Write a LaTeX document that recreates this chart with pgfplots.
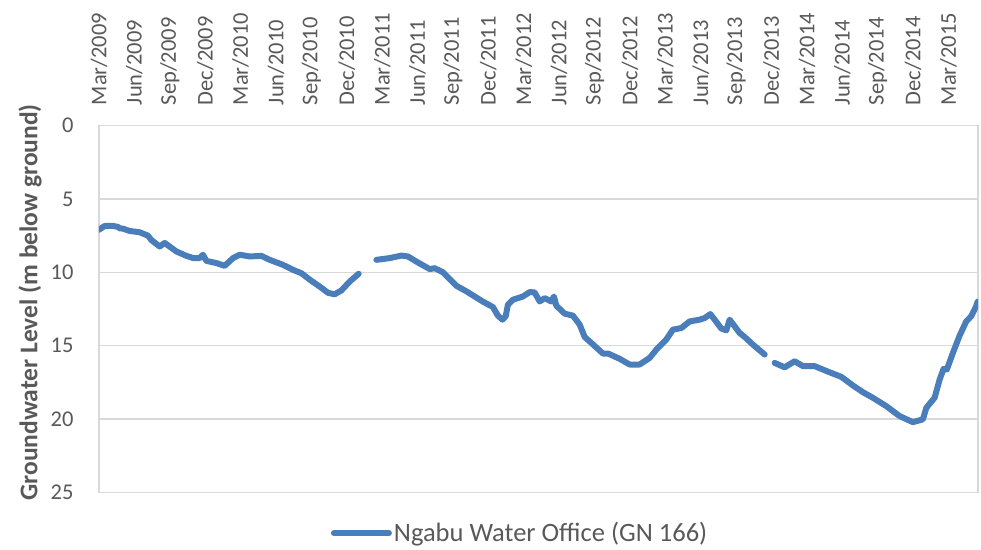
\documentclass[border=0pt]{standalone}
\usepackage{fontspec}
\setmainfont{Carlito}
\usepackage{pgfplots}
\pgfplotsset{compat=1.18}
\definecolor{txt}{HTML}{595959}
\definecolor{grd}{HTML}{D9D9D9}
\definecolor{ser}{HTML}{4A7EBB}

% x = months after Mar/2009, y = depth below ground (m); nan = gap in record
\pgfplotstableread{
x y
0.00 7.10
0.48 6.84
1.19 6.84
1.61 6.90
1.75 7.00
2.03 7.02
2.60 7.18
3.45 7.27
4.15 7.50
4.44 7.80
5.14 8.24
5.57 8.00
6.56 8.58
7.41 8.88
7.97 9.03
8.53 9.03
8.81 8.80
9.10 9.22
9.95 9.37
10.65 9.56
11.36 9.03
11.92 8.80
12.77 8.92
13.76 8.88
14.47 9.15
15.59 9.49
16.44 9.83
17.15 10.06
17.86 10.50
18.70 10.97
19.41 11.40
19.97 11.50
20.54 11.24
21.25 10.63
22.01 10.10
22.80 nan
23.51 9.15
24.64 9.03
25.63 8.86
26.19 8.92
26.90 9.27
28.03 9.78
28.45 9.72
29.15 10.00
30.29 10.92
31.14 11.30
31.84 11.65
32.54 12.00
33.39 12.37
33.81 12.96
34.19 13.23
34.47 13.00
34.66 12.20
35.08 11.87
35.93 11.65
36.50 11.35
36.92 11.37
37.35 11.99
37.77 11.76
38.34 11.99
38.56 11.65
38.76 12.28
39.47 12.82
40.17 12.96
40.74 13.57
41.16 14.41
41.73 14.82
42.71 15.54
43.14 15.54
44.13 15.90
44.97 16.29
45.82 16.29
46.67 15.84
47.24 15.27
48.08 14.59
48.64 13.91
49.36 13.80
50.06 13.35
50.91 13.23
51.33 13.12
51.81 12.85
52.18 13.23
52.75 13.84
53.17 13.96
53.45 13.23
54.30 14.14
54.72 14.41
55.42 14.93
56.42 15.61
56.80 nan
57.26 16.18
58.11 16.48
58.96 16.07
59.66 16.40
60.65 16.40
61.92 16.82
62.91 17.13
63.90 17.72
64.75 18.18
65.59 18.56
66.73 19.13
67.86 19.81
68.98 20.22
69.83 20.03
70.12 19.24
70.82 18.56
71.25 17.31
71.58 16.59
71.86 16.63
72.37 15.50
72.94 14.32
73.50 13.35
73.92 13.00
74.35 12.30
74.47 12.00
}\gwdata

\begin{document}
\fontsize{22}{26}\selectfont
\begin{tikzpicture}
\begin{axis}[
    name=ax,
    scale only axis,
    width=879pt,
    height=366.5pt,
    xmin=0, xmax=74.5,
    ymin=0, ymax=25,
    y dir=reverse,
    ytick={0,5,10,15,20,25},
    xtick={0,3,...,72},
    xticklabels={Mar/2009,Jun/2009,Sep/2009,Dec/2009,Mar/2010,Jun/2010,Sep/2010,Dec/2010,Mar/2011,Jun/2011,Sep/2011,Dec/2011,Mar/2012,Jun/2012,Sep/2012,Dec/2012,Mar/2013,Jun/2013,Sep/2013,Dec/2013,Mar/2014,Jun/2014,Sep/2014,Dec/2014,Mar/2015},
    xticklabel pos=upper,
    x tick label style={rotate=90, anchor=west},
    xticklabel shift=13pt,
    yticklabel shift=18pt,
    major tick length=0pt,
    tick label style={font=\fontsize{22.5}{26}\selectfont, text=txt},
    /pgf/number format/assume math mode=true,
    axis line style={draw=grd, line width=1.2pt},
    ymajorgrids,
    grid style={draw=grd, line width=1.2pt},
    ylabel={Groundwater Level (m below ground)},
    ylabel style={at={(axis description cs:-0.0785,0.518)}, anchor=center, font=\bfseries\fontsize{25.5}{30}\selectfont, text=txt},
    unbounded coords=jump,
    legend style={at={(axis description cs:0.479,-0.112)}, anchor=center, draw=none, fill=none, font=\fontsize{26.5}{30}\selectfont, text=txt, inner sep=0pt},
    legend cell align=left,
    legend image code/.code={\draw[#1, line cap=round] (0pt,0pt) -- (55pt,0pt);},
]
\addplot[color=ser, line width=6pt, line cap=round, line join=round] table[x=x, y=y] {\gwdata};
\addlegendentry{Ngabu Water Office (GN 166)}
\end{axis}
\pgfresetboundingbox
\useasboundingbox ([xshift=-99pt,yshift=-57pt]ax.south west) rectangle ([xshift=3pt,yshift=125.7pt]ax.north east);
\end{tikzpicture}
\end{document}
